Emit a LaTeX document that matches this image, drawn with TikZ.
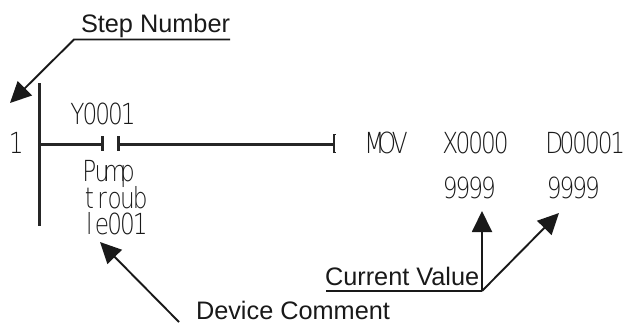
\documentclass[tikz,border=0pt]{standalone}
\usepackage{fontspec}
\setmainfont{Liberation Sans}
\newfontfamily\plcfont[FakeStretch=0.8]{DejaVu Sans ExtraLight}
\usetikzlibrary{arrows.meta}
\def\monoi#1{\ifx#1\relax\else\makebox[12.7pt]{#1}\expandafter\monoi\fi}
\newcommand\mn[1]{\monoi#1\relax}
\tikzset{
 plc/.style={anchor=base west,inner sep=0pt,outer sep=0pt,text=black!90,text depth=0pt,text height=21pt,font=\plcfont\fontsize{29}{29}\selectfont},
 lbl/.style={anchor=base west,inner sep=0pt,outer sep=0pt,text=black!90,text depth=0pt,font=\fontsize{25.3}{26}\selectfont},
 ladder/.style={line width=3pt,color=black!85},
 call/.style={line width=1.9pt,color=black!90},
 tip/.style={-{Triangle[length=21pt,width=20pt]}},
}
\begin{document}
\begin{tikzpicture}[x=1pt,y=-1pt]
\useasboundingbox (0,0) rectangle (635,322);
\node[lbl] (stepT) at (81,32) {Step Number};
\node[lbl] (curT) at (325,285) {Current Value};
\node[lbl] (devT) at (196,319) {Device Comment};
\coordinate (a1) at (230,39.5); \coordinate (a2) at (74,39.5); \coordinate (a3) at (10,103);
\draw[call,tip] (a1) -- (a2) -- (a3);
\coordinate (c1) at (326,291); \coordinate (c2) at (482,291); \coordinate (c3) at (482,211); \coordinate (c4) at (559,213);
\draw[call] (c1) -- (c2);
\draw[call,tip] (c2) -- (c3);
\draw[call,tip] (c2) -- (c4);
\coordinate (d1) at (179,322); \coordinate (d2) at (100,242);
\draw[call,tip] (d1) -- (d2);
% ladder
\coordinate (r1) at (39,83); \coordinate (r2) at (39,226);
\draw[ladder] (r1) -- (r2);
\coordinate (s1) at (39,144); \coordinate (s2) at (101,144); \coordinate (s3) at (118,144); \coordinate (s4) at (334,144);
\draw[ladder] (s1) -- (s2);
\draw[ladder] (s3) -- (s4);
\draw[ladder] (102,136) -- (102,151);
\draw[ladder] (118,136) -- (118,151);
\draw[line width=1.3pt,black!85] (336,134.5) -- (334,134.5) -- (334,152.5) -- (336,152.5);
% text
\node[plc] (n1) at (10,153) {\mn{1}};
\node[plc] (yy) at (71,124) {\mn{Y0001}};
\node[plc] (p1) at (83,181) {\mn{Pump}};
\node[plc] (p2) at (83,208) {\mn{troub}};
\node[plc] (p3) at (83,234) {\mn{le001}};
\node[plc] (mov) at (368,153) {\mn{MOV}};
\node[plc] (x0) at (444,153) {\mn{X0000}};
\node[plc] (d0) at (548,153) {\mn{D00001}};
\node[plc] (v1) at (444,198) {\mn{9999}};
\node[plc] (v2) at (548,198) {\mn{9999}};
\end{tikzpicture}
\end{document}
